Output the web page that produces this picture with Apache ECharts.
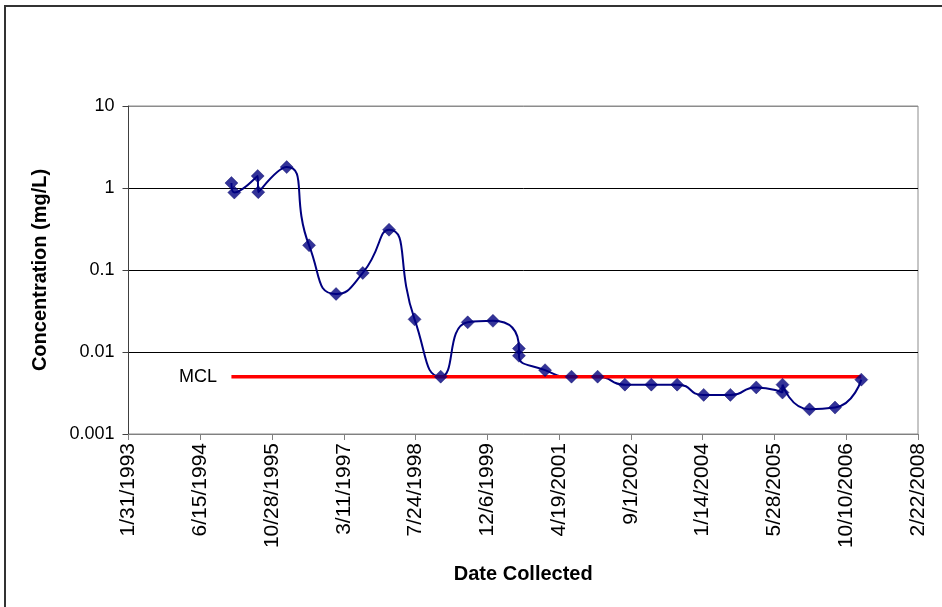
<!DOCTYPE html>
<html>
<head>
<meta charset="utf-8">
<title>Concentration vs Date Collected</title>
<script src="https://cdn.jsdelivr.net/npm/echarts@6/dist/echarts.min.js"></script>
<style>
  html, body { margin: 0; padding: 0; background: #fff; }
  #chart { width: 942px; height: 607px; }
</style>
</head>
<body>
<div id="chart"></div>
<script>
// Sampling dates and measured concentrations (mg/L)
const sampleDates = [
  '1995-01-18', '1995-02-07', '1995-07-20', '1995-07-24', '1996-02-07',
  '1996-07-12', '1997-01-16', '1997-07-21', '1998-01-20', '1998-07-17',
  '1999-01-15', '1999-07-22', '2000-01-14', '2000-07-13', '2000-07-13',
  '2001-01-11', '2001-07-14', '2002-01-12', '2002-07-21', '2003-01-21',
  '2003-07-20', '2004-01-21', '2004-07-25', '2005-01-21', '2005-07-23',
  '2005-07-23', '2006-01-27', '2006-07-24', '2007-01-23'
];
const concentrations = [
  1.15, 0.88, 1.4, 0.89, 1.8,
  0.2, 0.051, 0.092, 0.31, 0.025,
  0.005, 0.023, 0.024, 0.011, 0.009,
  0.006, 0.005, 0.005, 0.004, 0.004,
  0.004, 0.003, 0.003, 0.0037, 0.0032,
  0.004, 0.002, 0.0021, 0.0046
];

// Maximum contaminant level
const mclValue = 0.005;
const mclLabel = 'MCL';

// Date axis range as spreadsheet serial day numbers (1/31/1993 .. 2/22/2008, every 500 days)
const xMinSerial = 34000;
const xMaxSerial = 39500;
const xStepDays = 500;

// Concentration axis range (log scale)
const yMin = 0.001;
const yMax = 10;

function toSerial(iso) {
  const [y, m, d] = iso.split('-').map(Number);
  return Date.UTC(y, m - 1, d) / 86400000 + 25569;
}
function serialToLabel(serial) {
  const dt = new Date((serial - 25569) * 86400000);
  return (dt.getUTCMonth() + 1) + '/' + dt.getUTCDate() + '/' + dt.getUTCFullYear();
}

const points = sampleDates.map((d, i) => [toSerial(d), concentrations[i]]);
const mclPoints = [
  { value: [toSerial(sampleDates[0]), mclValue], label: { show: true } },
  { value: [toSerial(sampleDates[sampleDates.length - 1]), mclValue] }
];

const FONT = "'Liberation Sans', Arial, sans-serif";
const chart = echarts.init(document.getElementById('chart'), null, { renderer: 'canvas' });

chart.setOption({
  backgroundColor: '#fff',
  animation: false,
  graphic: [{
    type: 'rect',
    shape: { x: 5, y: 6, width: 2000, height: 2000 },
    style: { fill: 'none', stroke: '#333', lineWidth: 2 },
    silent: true
  }],
  grid: {
    left: 128.5, right: 24, top: 106, bottom: 173,
    show: true, borderColor: '#8c8c8c', borderWidth: 1, backgroundColor: 'transparent'
  },
  xAxis: {
    type: 'value',
    min: xMinSerial, max: xMaxSerial, interval: xStepDays,
    name: 'Date Collected',
    nameLocation: 'middle',
    nameGap: 130,
    nameTextStyle: { fontFamily: FONT, fontWeight: 'bold', fontSize: 20, color: '#000' },
    axisLine: { show: true, onZero: false, lineStyle: { color: '#808080', width: 1 } },
    axisTick: { show: true, inside: false, length: 6, lineStyle: { color: '#808080' } },
    axisLabel: {
      rotate: 90, margin: 9, fontFamily: FONT, fontSize: 21, color: '#000',
      formatter: v => serialToLabel(v)
    },
    splitLine: { show: false }
  },
  yAxis: {
    type: 'log', logBase: 10,
    min: yMin, max: yMax,
    name: 'Concentration (mg/L)',
    nameLocation: 'middle',
    nameGap: 78,
    nameRotate: 90,
    nameTextStyle: { fontFamily: FONT, fontWeight: 'bold', fontSize: 20, color: '#000' },
    axisLine: { show: true, lineStyle: { color: '#404040', width: 1 } },
    axisTick: { show: true, inside: false, length: 6, lineStyle: { color: '#404040' } },
    axisLabel: {
      margin: 14, fontFamily: FONT, fontSize: 18, color: '#000',
      formatter: v => String(parseFloat(Number(v).toPrecision(6)))
    },
    splitLine: { show: true, lineStyle: { color: ['#8c8c8c', '#000', '#000', '#000', '#8c8c8c'], width: 1 } }
  },
  series: [
    {
      name: 'Concentration line',
      type: 'line',
      data: points,
      smooth: 0.6,
      symbol: 'none',
      lineStyle: { color: '#000080', width: 2 },
      z: 2
    },
    {
      name: mclLabel,
      type: 'line',
      data: mclPoints,
      symbol: 'circle',
      symbolSize: 1,
      itemStyle: { color: 'rgba(0,0,0,0)' },
      lineStyle: { color: '#ff0000', width: 3.5 },
      label: {
        show: false, position: 'left', distance: 14,
        formatter: () => mclLabel,
        fontFamily: FONT, fontSize: 18, color: '#000'
      },
      z: 3
    },
    {
      name: 'Concentration',
      type: 'scatter',
      data: points,
      symbol: 'diamond',
      symbolSize: [13, 13],
      itemStyle: { color: '#000080', borderColor: '#000060', borderWidth: 0.5 },
      z: 4
    }
  ]
});
</script>
</body>
</html>
